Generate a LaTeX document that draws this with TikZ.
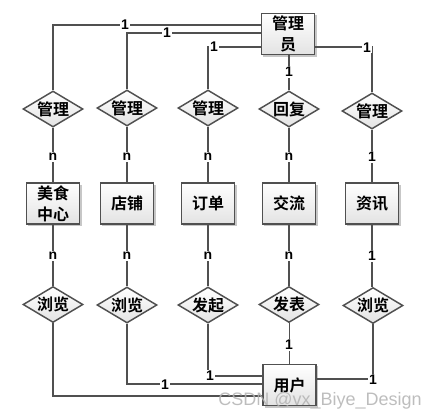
\documentclass[tikz,border=0pt]{standalone}
\usepackage{fontspec}
\setmainfont{Liberation Sans}
\newfontfamily\cjk{Noto Sans CJK SC}[BoldFont={Noto Sans CJK SC Bold}]
\newfontfamily\cardfont{Liberation Sans}
\usetikzlibrary{shapes.geometric,shadows}
\definecolor{lc}{HTML}{505050}
\begin{document}
\begin{tikzpicture}[x=0.75pt,y=-0.75pt,
  ent/.style={rectangle,draw=lc,line width=1.1pt,minimum width=40pt,minimum height=31pt,
    inner sep=0pt,top color=white,bottom color=gray!22,
    drop shadow={shadow xshift=1.4pt,shadow yshift=-1.4pt,fill=gray!55,opacity=0.8},
    font=\cjk\bfseries\fontsize{12pt}{16pt}\selectfont,align=center},
  rel/.style={diamond,draw=lc,line width=1.1pt,minimum width=45pt,minimum height=27pt,
    inner sep=0pt,shape aspect=1.67,top color=white,bottom color=gray!22,
    font=\cjk\bfseries\fontsize{12pt}{14pt}\selectfont},
  card/.style={fill=white,inner sep=0.6pt,font=\cardfont\bfseries\fontsize{10.5pt}{12pt}\selectfont},
  conn/.style={draw=lc,line width=1.1pt},
]
\useasboundingbox (0,0) rectangle (438,419);
% entities
\node[ent] (adm) at (288,34) {管理\\员};
\node[ent] (e1) at (53,203.5) {美食\\中心};
\node[ent] (e2) at (127,203.5) {店铺};
\node[ent] (e3) at (208,203.5) {订单};
\node[ent] (e4) at (289,203.5) {交流};
\node[ent] (e5) at (372,203.5) {资讯};
\node[ent] (usr) at (289.5,385) {用户};
% relations top
\node[rel] (r1) at (53,109) {管理};
\node[rel] (r2) at (127,108) {管理};
\node[rel] (r3) at (208,108) {管理};
\node[rel] (r4) at (289,109) {回复};
\node[rel] (r5) at (372,111) {管理};
% relations bottom
\node[rel] (b1) at (53,304.5) {浏览};
\node[rel] (b2) at (127,305) {浏览};
\node[rel] (b3) at (208,305) {发起};
\node[rel] (b4) at (289,304.5) {发表};
\node[rel] (b5) at (373,305.5) {浏览};
% connectors top
\path[conn] (r1.north) |- (adm.west |- 0,25);
\path[conn] (r2.north) |- (adm.west |- 0,33);
\path[conn] (r3.north) |- (adm.west |- 0,47);
\path[conn] (r4.north) -- (adm.south -| r4.north);
\path[conn] (r5.north) |- (adm.east |- 0,47);
% vertical
\foreach \i in {1,...,5}{
  \path[conn] (r\i.south) -- (e\i.north);
  \path[conn] (e\i.south) -- (b\i.north -| e\i.south);
}
% connectors bottom
\path[conn] (b1.south) |- (usr.west |- 0,396);
\path[conn] (b2.south) |- (usr.west |- 0,384);
\path[conn] (b3.south) |- (usr.west |- 0,376);
\path[conn] (b4.south -| usr.north) -- (usr.north);
\path[conn] (b5.south) |- (usr.east |- 0,379);
% cardinalities
\node[card] (c1) at (125,25) {1};
\node[card] (c2) at (167,33) {1};
\node[card] (c3) at (214,47) {1};
\node[card] (c4) at (289,72) {1};
\node[card] (c5) at (367,47.5) {1};
\node[card] (n1) at (53,157) {n};
\node[card] (n2) at (127,157) {n};
\node[card] (n3) at (208,157) {n};
\node[card] (n4) at (289,157) {n};
\node[card] (n5) at (372,157) {1};
\node[card] (m1) at (53,256) {n};
\node[card] (m2) at (127,256) {n};
\node[card] (m3) at (208,256) {n};
\node[card] (m4) at (289,256) {n};
\node[card] (m5) at (372,256) {1};
\node[card] (d2) at (165,385) {1};
\node[card] (d3) at (210,376) {1};
\node[card] (d4) at (289,345) {1};
\node[card] (d5) at (373,379.5) {1};
% watermark
\node[anchor=base west,inner sep=0pt,text=gray!60,opacity=0.85,
  font=\fontsize{13.5pt}{15pt}\selectfont] (wm) at (218,405) {CSDN @vx\_Biye\_Design};
\end{tikzpicture}
\end{document}
